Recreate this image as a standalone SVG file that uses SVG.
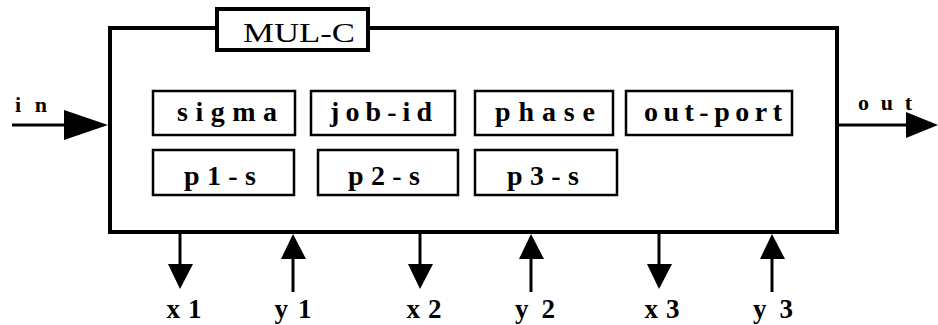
<svg xmlns="http://www.w3.org/2000/svg" width="938" height="325" viewBox="0 0 938 325">
<style>
.main{fill:#fff;stroke:#000;stroke-width:4}
.box{fill:#fff;stroke:#000;stroke-width:2.5}
.t{font-family:"Liberation Serif",serif;font-weight:bold;font-size:28px;text-anchor:middle;fill:#000}
.lbl{font-family:"Liberation Serif",serif;font-weight:bold;font-size:27px;text-anchor:middle;fill:#000}
.sm{font-family:"Liberation Serif",serif;font-weight:bold;font-size:22px;text-anchor:middle;fill:#000}
.ln{stroke:#000;stroke-width:3;fill:none}
</style>
<g id="mulc">
<rect class="main" x="110" y="28" width="727" height="204"/>
<rect class="main" x="217" y="9" width="151" height="41"/>
<text class="t" x="299" y="42" font-size="21" textLength="112" lengthAdjust="spacingAndGlyphs" style="font-weight:normal">MUL-C</text>
</g>
<g id="sigma"><rect class="box" x="153" y="91" width="142" height="44"/><text class="t" x="227" y="121" textLength="100" lengthAdjust="spacing">sigma</text></g>
<g id="job-id"><rect class="box" x="311" y="91" width="144" height="44"/><text class="t" x="381" y="121" textLength="102" lengthAdjust="spacing">job-id</text></g>
<g id="phase"><rect class="box" x="475" y="91" width="138" height="44"/><text class="t" x="545" y="121" textLength="100" lengthAdjust="spacing">phase</text></g>
<g id="out-port"><rect class="box" x="626" y="91" width="166" height="44"/><text class="t" x="713" y="121" textLength="138" lengthAdjust="spacing">out-port</text></g>
<g id="p1-s"><rect class="box" x="153" y="150" width="141" height="45"/><text class="t" x="220" y="185" textLength="72" lengthAdjust="spacing">p1-s</text></g>
<g id="p2-s"><rect class="box" x="318" y="150" width="140" height="45"/><text class="t" x="384" y="185" textLength="72" lengthAdjust="spacing">p2-s</text></g>
<g id="p3-s"><rect class="box" x="475" y="150" width="142" height="45"/><text class="t" x="543" y="185" textLength="72" lengthAdjust="spacing">p3-s</text></g>
<g id="connectors">
<line class="ln" x1="12" y1="125" x2="64" y2="125"/>
<path d="M64,110 L108,125 L64,140 Z" fill="#000"/>
<text class="sm" x="31" y="112" textLength="32" lengthAdjust="spacing">in</text>
<line class="ln" x1="838" y1="125" x2="906" y2="125"/>
<path d="M906,112 L938,125 L906,138 Z" fill="#000"/>
<text class="sm" x="885" y="110" textLength="54" lengthAdjust="spacing">out</text>
<line class="ln" x1="180" y1="234" x2="180" y2="266"/>
<path d="M168,264 L193,264 L180,289 Z" fill="#000"/>
<line class="ln" x1="293" y1="258" x2="293" y2="292"/>
<path d="M281,259 L306,259 L293,234 Z" fill="#000"/>
<line class="ln" x1="420" y1="234" x2="420" y2="266"/>
<path d="M408,264 L433,264 L420,289 Z" fill="#000"/>
<line class="ln" x1="531" y1="258" x2="531" y2="292"/>
<path d="M519,259 L544,259 L531,234 Z" fill="#000"/>
<line class="ln" x1="659" y1="234" x2="659" y2="266"/>
<path d="M647,264 L672,264 L659,289 Z" fill="#000"/>
<line class="ln" x1="772" y1="258" x2="772" y2="292"/>
<path d="M760,259 L785,259 L772,234 Z" fill="#000"/>
</g>
<g id="labels">
<text class="lbl" x="184" y="318" textLength="35" lengthAdjust="spacing">x1</text>
<text class="lbl" x="293" y="318" textLength="37" lengthAdjust="spacing">y1</text>
<text class="lbl" x="424" y="318" textLength="35" lengthAdjust="spacing">x2</text>
<text class="lbl" x="535" y="318" textLength="40" lengthAdjust="spacing">y2</text>
<text class="lbl" x="662" y="318" textLength="35" lengthAdjust="spacing">x3</text>
<text class="lbl" x="773" y="318" textLength="40" lengthAdjust="spacing">y3</text>
</g>
</svg>
